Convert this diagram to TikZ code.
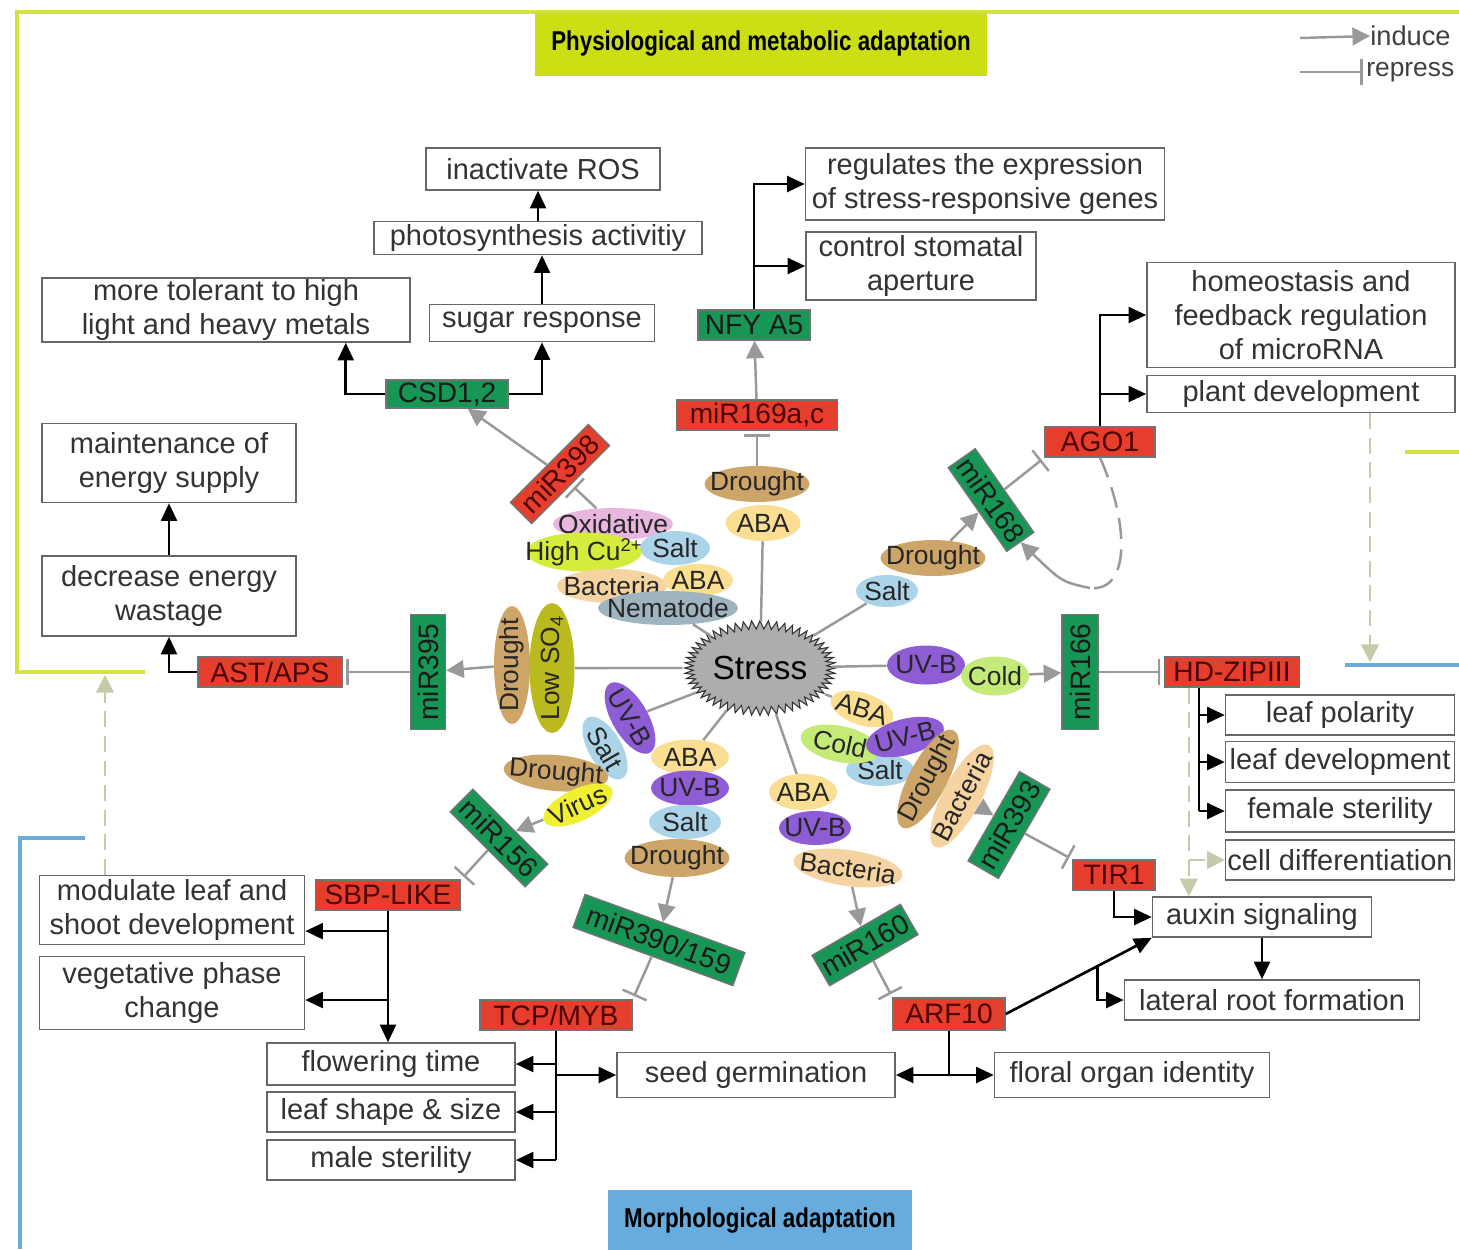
\documentclass[tikz,border=0pt]{standalone}
\usepackage{fontspec}
\setmainfont{Liberation Sans}
\newfontfamily\bannerfont{Liberation Sans}[FakeStretch=0.82]
\usepackage{xcolor}
\usepackage{tikz}
\usetikzlibrary{shapes.geometric, shapes.symbols, arrows.meta, calc}
\definecolor{mirRed}{RGB}{230, 62, 44}
\definecolor{mirGreen}{RGB}{24, 150, 86}
\definecolor{physYellow}{RGB}{204, 222, 20}
\definecolor{frameYellow}{RGB}{212, 226, 60}
\definecolor{morphBlue}{RGB}{104, 172, 222}
\definecolor{frameBlue}{RGB}{110, 170, 215}
\definecolor{paleDash}{RGB}{198, 202, 168}
\definecolor{cDrought}{RGB}{205, 165, 105}
\definecolor{cABA}{RGB}{250, 222, 145}
\definecolor{cSalt}{RGB}{172, 212, 232}
\definecolor{cUVB}{RGB}{142, 92, 212}
\definecolor{cCold}{RGB}{196, 234, 120}
\definecolor{cOxi}{RGB}{232, 182, 222}
\definecolor{cCu}{RGB}{214, 236, 60}
\definecolor{cBact}{RGB}{246, 212, 162}
\definecolor{cNema}{RGB}{160, 180, 192}
\definecolor{cSulf}{RGB}{186, 186, 30}
\definecolor{cVirus}{RGB}{240, 240, 50}
\newcommand{\ct}[1]{\makebox[0pt]{#1}}

\begin{document}
\begin{tikzpicture}[x=0.02cm, y=-0.02cm,
    outbox/.style={draw=black!60, line width=0.9pt, fill=white, text=black!80, align=center, inner sep=0pt, font=\fontsize{16.5}{19.5}\selectfont},
    gene/.style={draw=black!55, line width=0.8pt, inner sep=0pt, minimum height=0.6cm, font=\fontsize{16}{18}\selectfont},
    redgene/.style={gene, fill=mirRed, text=red!30!black},
    greengene/.style={gene, fill=mirGreen, text=black!90},
    cue/.style={ellipse, inner sep=0pt, minimum height=0.72cm, text=black!85, font=\fontsize{15}{17}\selectfont},
    induce/.style={draw=black!40, line width=1.4pt, -{Triangle[length=10pt, width=10pt]}},
    repress/.style={draw=black!40, line width=1.4pt, -{Bar[width=15pt]}, shorten >=2pt},
    link/.style={draw=black!40, line width=1.4pt},
    act/.style={draw=black, line width=1.5pt, -{Triangle[length=10pt, width=9pt]}},
    trunk/.style={draw=black, line width=1.5pt},
    feed/.style={draw=paleDash, line width=1.4pt, dash pattern=on 9pt off 5pt, -{Triangle[length=10pt, width=10pt]}}]
  \path[use as bounding box, fill=white] (0,0) rectangle (1459,1249);
  % Frames and banners
  \draw[frameYellow, line width=2pt] (145,672) -- (17,672) -- (17,12) -- (1459,12);
  \draw[frameYellow, line width=2pt] (1405,452) -- (1459,452);
  \draw[frameBlue, line width=2pt] (85,838) -- (20,838) -- (20,1249);
  \draw[frameBlue, line width=2pt] (1345,665) -- (1459,665);
  \coordinate (physedge) at (105,675);
  \coordinate (morphedge) at (1370,662);
  \node[fill=physYellow, minimum width=9.06cm, minimum height=1.26cm, font={\bannerfont\fontsize{15.5}{18}\selectfont\bfseries}] (phys) at (761,44) {Physiological and metabolic adaptation};
  \node[fill=morphBlue, minimum width=6.1cm, minimum height=1.2cm, font={\bannerfont\fontsize{15.5}{18}\selectfont\bfseries}] (morph) at (760,1220) {Morphological adaptation};
  % Legend
  \node[anchor=west, inner sep=0pt, text=black!75, font=\fontsize{15.5}{18}\selectfont] (indkey) at (1370,36) {induce};
  \node[anchor=west, inner sep=0pt, text=black!75, font=\fontsize{15}{18}\selectfont] (repkey) at (1366,72) {repress};
  \coordinate (indfrom) at (1300,38);
  \coordinate (repfrom) at (1300,72);
  \draw[induce] (indfrom) -- (indkey.west);
  \draw[repress] (repfrom) -- (repkey.west);
  % Stress
  \node[starburst, starburst points=56, starburst point height=0.17cm, random starburst=0, fill=black!32, draw=black!80, line width=0.6pt, minimum width=2.8cm, minimum height=1.9cm, inner sep=0pt, font=\fontsize{19}{21}\selectfont, text=black] (stress) at (760,668) {Stress};
  % microRNAs and targets
  \node[redgene, minimum width=3.22cm] (mir169) at (757,415) {miR169a,c};
  \node[greengene, minimum width=2.24cm] (nfya5) at (754,325) {NFY A5};
  \node[greengene, minimum width=2.44cm, minimum height=0.56cm] (csd) at (447,394) {CSD1,2};
  \node[redgene, minimum width=2.2cm, rotate=45] (mir398) at (560,474) {miR398};
  \node[greengene, minimum width=2.3cm, minimum height=0.7cm, rotate=90] (mir395) at (428,672) {miR395};
  \node[redgene, minimum width=2.88cm] (astaps) at (270,672) {AST/APS};
  \node[greengene, minimum width=2.12cm, minimum height=0.64cm, rotate=-45] (mir156) at (499,838) {miR156};
  \node[redgene, minimum width=2.9cm] (sbp) at (388,895) {SBP-LIKE};
  \node[greengene, minimum width=3.4cm, minimum height=0.7cm, rotate=-20] (mir390) at (659,940) {miR390/159};
  \node[redgene, minimum width=3.04cm] (tcp) at (556,1015) {TCP/MYB};
  \node[greengene, minimum width=2.04cm, minimum height=0.7cm, rotate=30] (mir160) at (865,945) {miR160};
  \node[redgene, minimum width=2.24cm, minimum height=0.64cm] (arf10) at (949,1014) {ARF10};
  \node[greengene, minimum width=2.06cm, minimum height=0.7cm, rotate=60] (mir393) at (1009,825) {miR393};
  \node[redgene, minimum width=1.64cm] (tir1) at (1114,875) {TIR1};
  \node[greengene, minimum width=2.3cm, minimum height=0.72cm, rotate=90] (mir166) at (1080,672) {miR166};
  \node[redgene, minimum width=2.7cm] (hdzip) at (1232,672) {HD-ZIPIII};
  \node[greengene, minimum width=2.04cm, minimum height=0.66cm, rotate=-55] (mir168) at (991,500) {miR168};
  \node[redgene, minimum width=2.2cm] (ago1) at (1100,442) {AGO1};
  % Outcomes
  \node[outbox, minimum width=4.68cm, minimum height=0.84cm] (ros) at (543,169) {inactivate ROS};
  \node[outbox, minimum width=6.56cm, minimum height=0.66cm] (photo) at (538,238) {photosynthesis activitiy};
  \node[outbox, minimum width=4.5cm, minimum height=0.74cm] (sugar) at (542,323) {sugar response};
  \node[outbox, minimum width=7.36cm, minimum height=1.28cm] (toler) at (226,310) {more tolerant to high\\light and heavy metals};
  \node[outbox, minimum width=5.08cm, minimum height=1.58cm] (energy) at (169,463) {maintenance of\\energy supply};
  \node[outbox, minimum width=5.08cm, minimum height=1.6cm] (wastage) at (169,596) {decrease energy\\wastage};
  \node[outbox, minimum width=7.18cm, minimum height=1.44cm] (regul) at (985,184) {regulates the expression\\of stress-responsive genes};
  \node[outbox, minimum width=4.6cm, minimum height=1.36cm] (stomata) at (921,266) {control stomatal\\aperture};
  \node[outbox, minimum width=6.16cm, minimum height=2.1cm] (homeo) at (1301,315) {homeostasis and\\feedback regulation\\of microRNA};
  \node[outbox, minimum width=6.16cm, minimum height=0.74cm] (plantdev) at (1301,394) {plant development};
  \node[outbox, minimum width=4.58cm, minimum height=0.8cm] (polar) at (1340,715) {leaf polarity};
  \node[outbox, minimum width=4.58cm, minimum height=0.82cm] (leafdev) at (1340,762) {leaf development};
  \node[outbox, minimum width=4.58cm, minimum height=0.84cm] (female) at (1340,811) {female sterility};
  \node[outbox, minimum width=4.58cm, minimum height=0.8cm] (celldiff) at (1340,860) {cell differentiation};
  \node[outbox, minimum width=4.38cm, minimum height=0.8cm] (auxin) at (1262,917) {auxin signaling};
  \node[outbox, minimum width=5.9cm, minimum height=0.8cm] (lateral) at (1272,1000) {lateral root formation};
  \node[outbox, minimum width=5.5cm, minimum height=0.9cm] (floral) at (1132,1075) {floral organ identity};
  \node[outbox, minimum width=5.56cm, minimum height=0.9cm] (seed) at (756,1075) {seed germination};
  \node[outbox, minimum width=4.96cm, minimum height=0.84cm] (flower) at (391,1064) {flowering time};
  \node[outbox, minimum width=4.96cm, minimum height=0.8cm] (shape) at (391,1112) {leaf shape \& size};
  \node[outbox, minimum width=4.96cm, minimum height=0.8cm] (male) at (391,1160) {male sterility};
  \node[outbox, minimum width=5.3cm, minimum height=1.38cm] (shoot) at (172,910) {modulate leaf and\\shoot development};
  \node[outbox, minimum width=5.3cm, minimum height=1.46cm] (phase) at (172,993) {vegetative phase\\change};
  % Stress cues
  \node[cue, fill=cDrought, minimum width=2.1cm] (dr169) at (757,484) {\ct{Drought}};
  \node[cue, fill=cABA, minimum width=1.5cm] (aba169) at (763,523) {\ct{ABA}};
  \node[cue, fill=cOxi, minimum width=2.4cm, minimum height=0.64cm] (oxi398) at (613,524) {\ct{Oxidative}};
  \node[cue, fill=cSalt, minimum width=1.4cm, minimum height=0.68cm] (salt398) at (675,548) {\ct{Salt}};
  \node[cue, fill=cCu, minimum width=2.3cm] (cu398) at (584,552) {\ct{High Cu\textsuperscript{2+}}};
  \node[cue, fill=cABA, minimum width=1.4cm, minimum height=0.64cm] (aba398) at (698,580) {\ct{ABA}};
  \node[cue, fill=cBact, minimum width=2.2cm, minimum height=0.68cm] (bac398) at (612,586) {\ct{Bacteria}};
  \node[cue, fill=cNema, minimum width=2.8cm, minimum height=0.68cm] (nem398) at (668,608) {\ct{Nematode}};
  \node[cue, fill=cDrought, minimum width=2.36cm, rotate=90] (dr395) at (512,665) {\ct{Drought}};
  \node[cue, fill=cSulf, minimum width=2.6cm, minimum height=0.9cm, rotate=90] (so395) at (552,668) {\ct{Low SO\textsubscript{4}}};
  \node[cue, fill=cUVB, minimum width=1.6cm, rotate=-60] (uvb156) at (630,718) {\ct{UV-B}};
  \node[cue, fill=cSalt, minimum width=1.4cm, minimum height=0.66cm, rotate=-60] (salt156) at (605,748) {\ct{Salt}};
  \node[cue, fill=cDrought, minimum width=2.1cm, rotate=-5] (dr156) at (556,773) {\ct{Drought}};
  \node[cue, fill=cVirus, minimum width=1.5cm, minimum height=0.64cm, rotate=25] (vir156) at (578,805) {\ct{Virus}};
  \node[cue, fill=cABA, minimum width=1.56cm, minimum height=0.7cm] (aba390) at (690,757) {\ct{ABA}};
  \node[cue, fill=cUVB, minimum width=1.56cm, minimum height=0.7cm] (uvb390) at (690,788) {\ct{UV-B}};
  \node[cue, fill=cSalt, minimum width=1.44cm, minimum height=0.68cm] (salt390) at (685,822) {\ct{Salt}};
  \node[cue, fill=cDrought, minimum width=2.1cm, minimum height=0.76cm] (dr390) at (677,858) {\ct{Drought}};
  \node[cue, fill=cABA, minimum width=1.36cm] (aba160) at (803,792) {\ct{ABA}};
  \node[cue, fill=cUVB, minimum width=1.44cm, minimum height=0.68cm] (uvb160) at (815,828) {\ct{UV-B}};
  \node[cue, fill=cBact, minimum width=2.2cm, rotate=-8] (bac160) at (848,868) {\ct{Bacteria}};
  \node[cue, fill=cABA, minimum width=1.3cm, minimum height=0.64cm, rotate=-18] (aba393) at (862,709) {\ct{ABA}};
  \node[cue, fill=cSalt, minimum width=1.36cm, minimum height=0.64cm] (salt393) at (880,770) {\ct{Salt}};
  \node[cue, fill=cCold, minimum width=1.6cm, rotate=-12] (cold393) at (840,744) {\ct{Cold}};
  \node[cue, fill=cUVB, minimum width=1.6cm, rotate=15] (uvb393) at (905,737) {\ct{UV-B}};
  \node[cue, fill=cDrought, minimum width=2.2cm, minimum height=0.76cm, rotate=62] (dr393) at (928,779) {\ct{Drought}};
  \node[cue, fill=cBact, minimum width=2.3cm, minimum height=0.76cm, rotate=62] (bac393) at (962,796) {\ct{Bacteria}};
  \node[cue, fill=cUVB, minimum width=1.56cm, minimum height=0.78cm] (uvb166) at (926,665) {\ct{UV-B}};
  \node[cue, fill=cCold, minimum width=1.36cm, minimum height=0.78cm] (cold166) at (995,676) {\ct{Cold}};
  \node[cue, fill=cDrought, minimum width=2.1cm] (dr168) at (933,558) {\ct{Drought}};
  \node[cue, fill=cSalt, minimum width=1.24cm, minimum height=0.64cm] (salt168) at (887,591) {\ct{Salt}};
  % Stress to microRNAs
  \draw[link] (stress) -- (aba169);
  \draw[repress] (dr169) -- (mir169);
  \draw[induce] (mir169) -- (nfya5);
  \draw[link] (stress) -- (nem398);
  \draw[repress] (oxi398) -- (mir398);
  \draw[induce] (mir398) -- (csd);
  \draw[link] (stress) -- (so395);
  \draw[induce] (dr395) -- (mir395);
  \draw[repress] (mir395) -- (astaps);
  \draw[link] (stress) -- (uvb156);
  \draw[induce] (vir156) -- (mir156);
  \draw[repress] (mir156) -- (sbp.north east);
  \draw[link] (stress) -- (aba390);
  \draw[induce] (dr390) -- (mir390);
  \draw[repress] (mir390) -- (tcp.north east);
  \draw[link] (stress) -- (aba160);
  \draw[induce] (bac160) -- (mir160);
  \draw[repress] (mir160) -- (arf10.north west);
  \draw[link] (stress) -- (aba393);
  \draw[induce] (bac393) -- (mir393);
  \draw[repress] (mir393) -- (tir1.north west);
  \draw[link] (stress) -- (uvb166);
  \draw[induce] (cold166) -- (mir166);
  \draw[repress] (mir166) -- (hdzip);
  \draw[link] (stress) -- (salt168);
  \draw[induce] (dr168) -- (mir168);
  \draw[repress] (mir168) -- (ago1.south west);
  % AGO1 feedback loop
  \coordinate (loopturn) at (1090,588);
  \draw[link, dash pattern=on 12pt off 6pt] (ago1.south) .. controls (1128,520) and (1132,592) .. (loopturn);
  \draw[induce] (loopturn) .. controls (1062,582) .. (mir168.east);
  % Target effects
  \draw[act] (nfya5.north) |- (regul.west);
  \draw[act] (nfya5.north) |- (stomata.west);
  \draw[act] (csd.west) -| ($(toler.south east)+(-65,0)$);
  \draw[act] (csd.east) -| (sugar.south);
  \draw[act] (sugar.north) -- (sugar.north |- photo.south);
  \draw[act] (photo.north) -- (photo.north |- ros.south);
  \draw[act] (astaps.west) -| (wastage.south);
  \draw[act] (wastage) -- (energy);
  \draw[act] (ago1.north) |- (homeo.west);
  \draw[act] (ago1.north) |- (plantdev.west);
  \coordinate (hdtrunk) at ($(hdzip.south west)+(35,0)$);
  \coordinate (hdfeed) at ($(hdzip.south west)+(25,0)$);
  \draw[trunk] (hdtrunk) -- (hdtrunk |- female.west);
  \draw[act] (hdtrunk |- polar.west) -- (polar.west);
  \draw[act] (hdtrunk |- leafdev.west) -- (leafdev.west);
  \draw[act] (hdtrunk |- female.west) -- (female.west);
  \draw[feed] (hdfeed) -- (hdfeed |- auxin.north);
  \draw[feed] (hdfeed |- celldiff.west) -- (celldiff.west);
  \draw[act] (tir1.south) |- (auxin.west);
  \draw[act] (auxin.south) -- (auxin.south |- lateral.north);
  \draw[act] (arf10.east) -- (auxin.south west);
  \draw[act] ($(arf10.east)!0.63!(auxin.south west)$) |- (lateral.west);
  \draw[trunk] (arf10.south) -- (arf10.south |- floral.west);
  \draw[act] (arf10.south |- seed.east) -- (seed.east);
  \draw[act] (arf10.south |- floral.west) -- (floral.west);
  \draw[trunk] (tcp.south) -- (tcp.south |- male.east);
  \draw[act] (tcp.south |- flower.east) -- (flower.east);
  \draw[act] (tcp.south |- shape.east) -- (shape.east);
  \draw[act] (tcp.south |- male.east) -- (male.east);
  \draw[act] (tcp.south |- seed.west) -- (seed.west);
  \draw[act] (sbp.south) -- (sbp.south |- flower.north);
  \draw[act] (sbp.south |- shoot.-9) -- (shoot.-9);
  \draw[act] (sbp.south |- phase.-3) -- (phase.-3);
  % Feedback to adaptation
  \draw[feed] (shoot.north -| physedge) -- (physedge);
  \draw[feed] (plantdev.south -| morphedge) -- (morphedge);
\end{tikzpicture}
\end{document}
